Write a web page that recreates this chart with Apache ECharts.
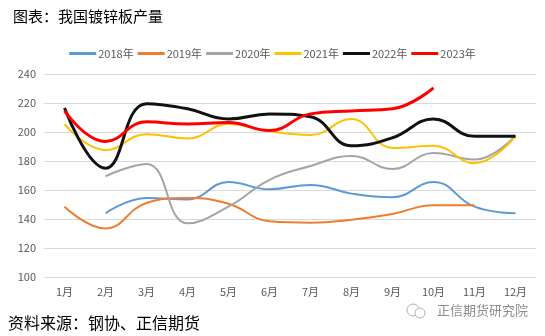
<!DOCTYPE html>
<html>
<head>
<meta charset="utf-8">
<script src="https://cdn.jsdelivr.net/npm/echarts@6/dist/echarts.min.js"></script>
<style>
html,body{margin:0;padding:0;background:#fff;}
#chart{width:545px;height:336px;}
</style>
</head>
<body>
<div id="chart"></div>
<script>
// 月份类目
const months = ['1月','2月','3月','4月','5月','6月','7月','8月','9月','10月','11月','12月'];
// 各年镀锌板产量（万吨）
const y2018 = [null, 144, 154.5, 153.5, 165.5, 160.5, 163.5, 157.5, 155, 165.5, 148.5, 144];
const y2019 = [148.5, 133.5, 151, 154.5, 150.5, 138.5, 137.5, 139.5, 143.5, 149.5, 149.5, null];
const y2020 = [null, 169.5, 178, 137, 148.5, 167, 176.5, 183.5, 174.5, 185.5, 181, 197.5];
const y2021 = [205.5, 187.5, 198.5, 195.5, 205.5, 200.5, 198, 209, 189, 190.5, 178.5, 197];
const y2022 = [216.5, 175, 219.5, 216, 209, 212.5, 210.5, 190.5, 196, 209, 197, 197];
const y2023 = [214.5, 193.5, 207, 205.5, 206.5, 201, 212.5, 214.5, 216, 230.5];
const seriesNames = ['2018年','2019年','2020年','2021年','2022年','2023年'];
const seriesData = [y2018, y2019, y2020, y2021, y2022, y2023];
const colors = ['#5b9bd5','#ed7d31','#a5a5a5','#ffc000','#111111','#ff0000'];
const widths = [2, 2, 2, 2, 3, 3];

const font = '"Noto Sans CJK SC", "Microsoft YaHei", sans-serif';
const chart = echarts.init(document.getElementById('chart'), null, {renderer: 'canvas'});

chart.setOption({
  backgroundColor: '#fff',
  animation: false,
  color: colors,
  textStyle: {fontFamily: font},
  title: [{
    text: '图表：我国镀锌板产量',
    left: 8, top: 4,
    textStyle: {fontSize: 15, fontWeight: 'normal', color: '#000', fontFamily: font}
  }],
  legend: {
    top: 43, left: 'center',
    itemWidth: 27, itemHeight: 3, itemGap: 4,
    icon: 'rect',
    textStyle: {fontSize: 11, color: '#595959', fontFamily: font, padding: [0,0,0,-3]},
    data: seriesNames
  },
  grid: {left: 44, right: 9, top: 74, bottom: 59, containLabel: false},
  xAxis: {
    type: 'category',
    data: months,
    boundaryGap: true,
    axisLine: {show: false},
    axisTick: {show: false},
    axisLabel: {color: '#595959', fontSize: 11, margin: 9, fontFamily: font}
  },
  yAxis: {
    type: 'value',
    min: 100, max: 240, interval: 20,
    axisLine: {show: false},
    axisTick: {show: false},
    axisLabel: {color: '#595959', fontSize: 11, margin: 8, fontFamily: font},
    splitLine: {lineStyle: {color: '#d9d9d9', width: 1}}
  },
  series: seriesNames.map((n, i) => ({
    name: n,
    type: 'line',
    data: seriesData[i],
    smooth: 0.45,
    showSymbol: false,
    symbol: 'none',
    connectNulls: false,
    lineStyle: {width: widths[i], color: colors[i]},
    z: 2 + i
  })),
  graphic: [
    {
      type: 'text', left: 8, top: 315,
      style: {text: '资料来源：钢协、正信期货', fill: '#000', font: '16px ' + font}
    },
    {
      type: 'circle', shape: {cx: 413, cy: 310, r: 6},
      style: {fill: 'none', stroke: '#b0b0b0', lineWidth: 1}
    },
    {
      type: 'circle', shape: {cx: 420, cy: 313, r: 5},
      style: {fill: '#fff', stroke: '#b0b0b0', lineWidth: 1}
    },
    {
      type: 'text', left: 437, top: 304,
      style: {text: '正信期货研究院', fill: '#8c8c8c', font: '13px ' + font}
    }
  ]
});
</script>
</body>
</html>
